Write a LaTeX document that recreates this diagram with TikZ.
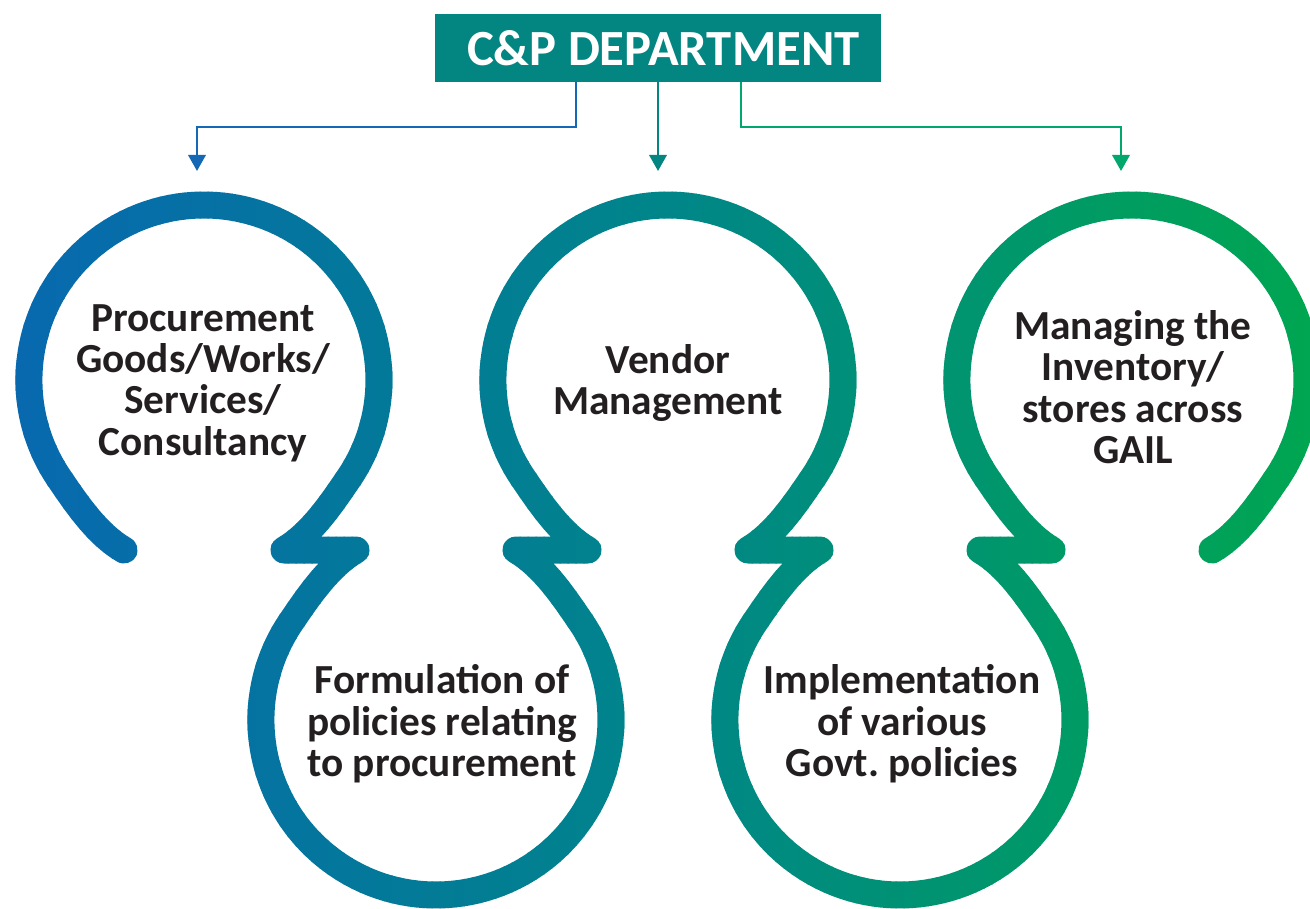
\documentclass[tikz,border=0pt]{standalone}
\usepackage{fontspec}
\setmainfont{Carlito}
\usetikzlibrary{arrows.meta}
\frenchspacing
\definecolor{cblue}{RGB}{8,104,176}
\definecolor{cteal}{RGB}{0,133,138}
\definecolor{cgreen}{RGB}{0,166,81}
\definecolor{boxteal}{RGB}{3,133,129}
\definecolor{lblue}{RGB}{20,104,180}
\definecolor{lteal}{RGB}{3,133,129}
\definecolor{lgreen}{RGB}{0,168,110}
\definecolor{txt}{RGB}{35,31,32}
\def\wavepath{(124,550) .. controls +(-26,-15) and +(17,25) .. (60.6,480.4)
 arc[start angle=145,end angle=395,radius=175]
 .. controls +(-17,25) and +(26,-15) .. (284,550) -- (356,550)
 .. controls +(-26,15) and +(17,-25) .. (292.6,619.6)
 arc[start angle=215,end angle=-35,radius=175]
 .. controls +(-17,-25) and +(26,15) .. (516,550) -- (588,550)
 .. controls +(-26,-15) and +(17,25) .. (524.6,480.4)
 arc[start angle=145,end angle=395,radius=175]
 .. controls +(-17,25) and +(26,-15) .. (748,550) -- (820,550)
 .. controls +(-26,15) and +(17,-25) .. (756.6,619.6)
 arc[start angle=215,end angle=-35,radius=175]
 .. controls +(-17,-25) and +(26,15) .. (980,550) -- (1052,550)
 .. controls +(-26,-15) and +(17,25) .. (988.6,480.4)
 arc[start angle=145,end angle=395,radius=175]
 .. controls +(-17,25) and +(26,-15) .. (1212,550)}
\begin{document}
\begin{tikzpicture}[x=0.75pt,y=-0.75pt,
  wave/.style={line width=20.25pt,line cap=round,line join=round},
  conn/.style={line width=1.9pt,-{Triangle[width=13pt,length=12pt]}},
  lbl/.style={text=txt,font=\bfseries\fontsize{31}{31}\selectfont,align=center,inner sep=0pt},
  titlebox/.style={fill=boxteal,text=white,font=\bfseries\fontsize{38}{40}\selectfont,minimum width=334.5pt,minimum height=51pt,inner sep=0pt}]
\useasboundingbox (0,0) rectangle (1310,909);
% gradient ribbon
\foreach \i in {0,...,163}{
  \pgfmathsetmacro{\xa}{\i*8-0.5}
  \pgfmathsetmacro{\xb}{\i*8+8.5}
  \pgfmathsetmacro{\xm}{\i*8+4}
  \pgfmathsetmacro{\pa}{max(0,min(100,100-\xm/6.55))}
  \pgfmathsetmacro{\pb}{max(0,min(100,(\xm-655)/6.55))}
  \ifdim\xm pt<655pt \colorlet{sc}{cblue!\pa!cteal}\else\colorlet{sc}{cgreen!\pb!cteal}\fi
  \begin{scope}
    \clip (\xa,-10) rectangle (\xb,920);
    \draw[wave,sc] \wavepath;
  \end{scope}
}
% title
\node[titlebox] (title) at (658,48) {\hspace*{8pt}C\&P DEPARTMENT};
\coordinate (a1) at (197,171);
\coordinate (a2) at (658,171);
\coordinate (a3) at (1121,171);
\draw[conn,lblue] ([xshift=-61.5pt]title.south) |- (a1 |- 0,127) -- (a1);
\draw[conn,lteal] (title.south) -- (a2);
\draw[conn,lgreen] ([xshift=62.25pt]title.south) |- (a3 |- 0,127) -- (a3);
% labels
\node[lbl] (t1) at (203,383) {Procurement\\Goods/Works/\\Services/\\Consultancy};
\node[lbl] (t2) at (442,724) {Formulation of\\policies relating\\to procurement};
\node[lbl] (t3) at (668,383) {Vendor\\Management};
\node[lbl] (t4) at (902,724) {Implementation\\of various\\Govt. policies};
\node[lbl] (t5) at (1133,387) {Managing the\\Inventory/\\stores across\\GAIL};
\end{tikzpicture}
\end{document}
